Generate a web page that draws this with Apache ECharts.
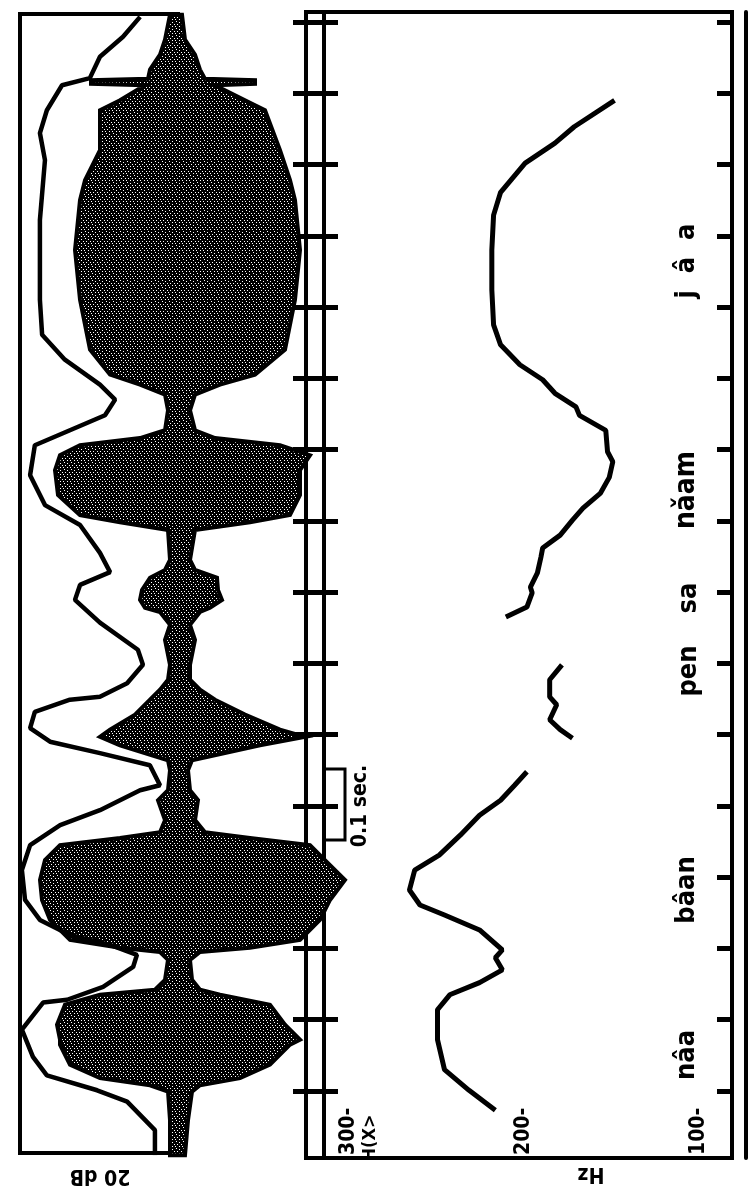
<!DOCTYPE html>
<html>
<head>
<meta charset="utf-8">
<script src="https://cdn.jsdelivr.net/npm/echarts@6/dist/echarts.min.js"></script>
<style>
  html, body { margin: 0; padding: 0; background: #fff; }
  #main { width: 750px; height: 1189px; }
</style>
</head>
<body>
<div id="main"></div>
<script>
// time in ms, tick marks every 100 ms (0.1 sec.)
const tickMs = [0, 100, 200, 300, 400, 500, 600, 700, 800, 900, 1000, 1100, 1200, 1300, 1400, 1500];
const f0Ticks = [100, 200, 300];

// oscillogram envelope: time (ms), excursion up (+) and down (-)
const waveMs = [-90, -41, -1, 8, 18, 37, 65, 72, 93, 121, 135, 142, 156, 184, 195, 201, 212, 240, 268, 296,
  324, 345, 355, 363, 380, 408, 422, 450, 464, 485, 497, 507, 528, 549, 563, 577, 598, 633, 654, 672,
  678, 689, 703, 720, 731, 745, 787, 798, 808, 836, 871, 892, 906, 916, 927, 955, 977, 991, 1005, 1040,
  1110, 1180, 1250, 1278, 1320, 1376, 1390, 1411, 1413, 1418, 1420, 1433, 1454, 1475, 1510];
const waveUp = [0.05, 0.05, 0.07, 0.25, 0.75, 1.05, 1.15, 1.15, 1.18, 1.10, 0.75, 0.20, 0.10, 0.07, 0.15, 0.55, 1.05, 1.25, 1.33, 1.35,
  1.30, 1.15, 0.55, 0.15, 0.10, 0.17, 0.07, 0.05, 0.07, 0.55, 0.75, 0.65, 0.40, 0.25, 0.15, 0.07, 0.05, 0.10, 0.05, 0.15,
  0.30, 0.35, 0.33, 0.25, 0.10, 0.05, 0.07, 0.55, 0.95, 1.17, 1.20, 1.15, 0.95, 0.35, 0.10, 0.07, 0.10, 0.35, 0.65, 0.85,
  0.95, 1.00, 0.95, 0.90, 0.75, 0.75, 0.55, 0.30, 0.84, 0.84, 0.27, 0.25, 0.15, 0.10, 0.05];
const waveDown = [-0.10, -0.13, -0.17, -0.25, -0.65, -0.95, -1.15, -1.25, -1.10, -0.95, -0.45, -0.25, -0.17, -0.15, -0.25, -0.75, -1.25, -1.45, -1.55, -1.70,
  -1.50, -1.35, -0.75, -0.30, -0.20, -0.23, -0.15, -0.13, -0.17, -0.85, -1.30, -1.05, -0.70, -0.40, -0.25, -0.15, -0.15, -0.20, -0.15, -0.25,
  -0.35, -0.47, -0.43, -0.42, -0.20, -0.15, -0.20, -0.75, -1.15, -1.25, -1.25, -1.35, -1.05, -0.40, -0.20, -0.15, -0.20, -0.45, -0.80, -1.10,
  -1.20, -1.25, -1.20, -1.15, -1.05, -0.90, -0.70, -0.40, -0.80, -0.80, -0.30, -0.25, -0.20, -0.10, -0.07];

// intensity curve (dB)
const intMs = [-90, -55, -15, 1, 22, 48, 86, 124, 128, 146, 174, 191, 205, 219, 240, 268, 310, 345, 373, 394,
  422, 429, 457, 474, 490, 509, 532, 549, 553, 572, 598, 619, 657, 689, 710, 728, 755, 794, 822, 864,
  906, 927, 948, 970, 991, 1026, 1061, 1110, 1222, 1306, 1344, 1376, 1411, 1421, 1451, 1479, 1507];
const intDb = [7.3, 7.3, 16.1, 25.6, 41.5, 45.9, 49.4, 42.7, 35.1, 23.7, 14.2, 13.0, 21.5, 34.2, 43.7, 48.4, 49.4, 46.8, 37.3, 24.7,
  12.0, 5.7, 8.9, 24.7, 40.5, 46.8, 45.3, 34.2, 24.7, 16.1, 11.1, 12.7, 24.7, 32.6, 31.0, 21.5, 24.7, 31.0, 42.1, 46.8,
  45.3, 34.2, 23.1, 19.9, 24.7, 35.8, 43.0, 43.7, 43.7, 42.1, 43.7, 41.5, 36.7, 27.9, 24.7, 17.4, 12.0];

// fundamental frequency (Hz), three voiced stretches
const f0MsA = [-27, 1, 30, 72, 114, 135, 152, 170, 187, 198, 226, 247, 261, 282, 310, 331, 359, 387, 408, 429, 448];
const f0HzA = [216, 231, 245, 249, 249, 242, 225, 212, 216, 212, 225, 245, 259, 265, 262, 248, 236, 225, 213, 205, 198];
const f0MsB = [495, 507, 521, 542, 553, 577, 598];
const f0HzB = [172, 179, 185, 181, 185, 185, 178];
const f0MsC = [665, 679, 699, 707, 727, 749, 762, 780, 801, 818, 839, 861, 883, 897, 927, 948, 960, 979, 998, 1019,
  1047, 1075, 1124, 1180, 1229, 1261, 1302, 1330, 1353, 1390];
const f0HzC = [210, 198, 195, 196, 192, 190, 189, 179, 172, 166, 156, 151, 149, 152, 153, 168, 170, 182, 189, 202,
  213, 217, 218, 218, 217, 213, 199, 182, 171, 148];

const chart = echarts.init(document.getElementById('main'));

// speckled fill for the oscillogram
const tex = document.createElement('canvas');
tex.width = 7; tex.height = 7;
const g = tex.getContext('2d');
g.fillStyle = '#000'; g.fillRect(0, 0, 7, 7);
g.fillStyle = '#fff';
[[1, 0], [4, 1], [6, 3], [2, 3], [0, 5], [4, 5]].forEach(p => g.fillRect(p[0], p[1], 1, 1));

const ink = '#000';
const font = '"DejaVu Sans Condensed", "DejaVu Sans", sans-serif';

function railAxis(extra) {
  return Object.assign({
    type: 'value', gridIndex: 2, min: -94, max: 1514,
    axisLine: { show: false }, axisLabel: { show: false }, splitLine: { show: false },
    axisTick: { show: false }
  }, extra);
}
function ticks(inside, len) {
  return { show: true, inside: inside, length: len, customValues: tickMs, lineStyle: { color: ink, width: 5 } };
}
function vtext(txt, x, y, size) {
  return {
    type: 'text', x: x, y: y, rotation: Math.PI / 2,
    style: { text: txt, font: 'bold ' + size + 'px ' + font, fill: ink, align: 'center', verticalAlign: 'middle' }
  };
}
function flipText(txt, x, y) {
  return {
    type: 'text', x: x, y: y, rotation: Math.PI,
    style: { text: txt, font: 'bold 21px ' + font, fill: ink, align: 'center', verticalAlign: 'middle' }
  };
}

const option = {
  animation: false,
  backgroundColor: '#fff',
  grid: [
    { left: 20, top: 14, width: 158, height: 1139, show: true, borderColor: ink, borderWidth: 4, backgroundColor: 'transparent' },
    { left: 20, top: 14, width: 330, height: 1139 },
    { left: 306, top: 12, width: 426, height: 1146, show: true, borderColor: ink, borderWidth: 4, backgroundColor: 'transparent' }
  ],
  xAxis: [
    { type: 'value', gridIndex: 0, min: 0, max: 50, inverse: true, show: false },
    { type: 'value', gridIndex: 1, min: -1.75, max: 1.55, inverse: true, show: false },
    {
      type: 'value', gridIndex: 2, min: 81, max: 324, inverse: true, position: 'bottom',
      axisLine: { show: false }, axisTick: { show: false }, splitLine: { show: false },
      axisLabel: {
        inside: true, rotate: 90, customValues: f0Ticks, margin: 3,
        formatter: v => v + '-', color: ink, fontFamily: font, fontWeight: 'bold', fontSize: 21
      }
    }
  ],
  yAxis: [
    { type: 'value', gridIndex: 0, min: -87, max: 1511, show: false },
    { type: 'value', gridIndex: 1, min: -87, max: 1511, show: false },
    railAxis({ position: 'left', axisTick: ticks(true, 32) }),
    railAxis({ position: 'left', axisTick: ticks(false, 13) }),
    railAxis({ position: 'left', offset: -18, axisLine: { show: true, lineStyle: { color: ink, width: 4 } } }),
    railAxis({ position: 'right', axisTick: ticks(true, 15) }),
    railAxis({ position: 'right', offset: 14, axisLine: { show: true, lineStyle: { color: ink, width: 4 } } })
  ],
  series: [
    {
      type: 'custom', xAxisIndex: 1, yAxisIndex: 1,
      data: waveMs.map((t, i) => [waveUp[i], waveDown[i], t]),
      encode: { x: [0, 1], y: 2 },
      renderItem: function (params, api) {
        if (params.dataIndex !== 0) return null;
        const pts = [];
        for (let i = 0; i < waveMs.length; i++) pts.push(api.coord([waveUp[i], waveMs[i]]));
        for (let i = waveMs.length - 1; i >= 0; i--) pts.push(api.coord([waveDown[i], waveMs[i]]));
        return {
          type: 'polygon', shape: { points: pts },
          style: { fill: { image: tex, repeat: 'repeat' }, stroke: ink, lineWidth: 4 }
        };
      }
    },
    {
      type: 'line', xAxisIndex: 0, yAxisIndex: 0, symbol: 'none',
      data: intMs.map((t, i) => [intDb[i], t]),
      lineStyle: { color: ink, width: 4.5 }
    },
    {
      type: 'line', xAxisIndex: 2, yAxisIndex: 2, symbol: 'none',
      data: f0MsA.map((t, i) => [f0HzA[i], t]), lineStyle: { color: ink, width: 5 }
    },
    {
      type: 'line', xAxisIndex: 2, yAxisIndex: 2, symbol: 'none',
      data: f0MsB.map((t, i) => [f0HzB[i], t]), lineStyle: { color: ink, width: 5 }
    },
    {
      type: 'line', xAxisIndex: 2, yAxisIndex: 2, symbol: 'none',
      data: f0MsC.map((t, i) => [f0HzC[i], t]), lineStyle: { color: ink, width: 5 }
    }
  ],
  graphic: [
    // syllables, rotated like the plot
    vtext('nâa', 687, 1055, 27),
    vtext('bâan', 687, 890, 27),
    vtext('pen', 689, 671, 27),
    vtext('sa', 689, 598, 27),
    vtext('nǎam', 687, 490, 28),
    vtext('j  â  a', 687, 261, 27),
    vtext('0.1 sec.', 361, 806, 21),
    { type: 'polyline', shape: { points: [[325, 769], [345, 769], [345, 840], [325, 840]] }, style: { stroke: ink, lineWidth: 3, fill: null } },
    flipText('20 dB', 100, 1175),
    flipText('Hz', 591, 1173),
    { type: 'text', x: 370, y: 1138, rotation: Math.PI / 2, style: { text: 'H(X>', font: 'bold 18px ' + font, fill: ink, align: 'center', verticalAlign: 'middle' } }
  ]
};

chart.setOption(option);
</script>
</body>
</html>
